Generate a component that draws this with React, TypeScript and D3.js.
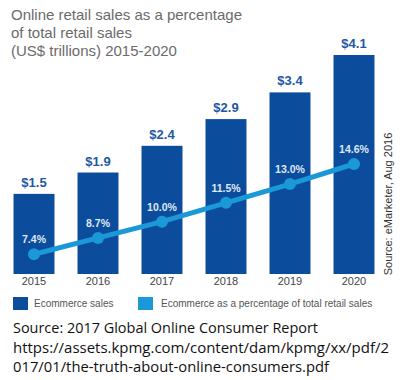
import React from "react";
import * as d3 from "d3";

const years = ["2015", "2016", "2017", "2018", "2019", "2020"];
const sales = [1.5, 1.9, 2.4, 2.9, 3.4, 4.1];
const salesLabels = ["$1.5", "$1.9", "$2.4", "$2.9", "$3.4", "$4.1"];
const pct = [7.4, 8.7, 10.0, 11.5, 13.0, 14.6];
const pctLabels = ["7.4%", "8.7%", "10.0%", "11.5%", "13.0%", "14.6%"];
const titleLines = [
  "Online retail sales as a percentage",
  "of total retail sales",
  "(US$ trillions) 2015-2020",
];
const sourceLines = [
  "Source: 2017 Global Online Consumer Report",
  "https://assets.kpmg.com/content/dam/kpmg/xx/pdf/2",
  "017/01/the-truth-about-online-consumers.pdf",
];

const BAR = "#0b4c9d";
const LINE = "#1b98d8";
const LABEL = "#1f58a3";

export default function App() {
  const W = 400, H = 380;
  const x = d3.scaleBand<string>().domain(years).range([2, 386]).paddingInner(0.36).paddingOuter(0.18);
  const y = d3.scaleLinear().domain([0, 4.1]).range([274, 55]);
  const y2 = d3.scaleLinear().domain([0, 14.6]).range([347, 164]);
  const cx = (yr: string) => (x(yr) ?? 0) + x.bandwidth() / 2;
  const line = d3.line<number>().x((_, i) => cx(years[i])).y((d) => y2(d));

  return (
    <svg
      width={W}
      height={H}
      style={{ position: "absolute", left: 0, top: 0, background: "#fff" }}
      fontFamily="'Liberation Sans', Arial, sans-serif"
    >
      {titleLines.map((t, i) => (
        <text key={t} x={11} y={20 + i * 18} fontSize={15} fill="#6b6b6b">
          {t}
        </text>
      ))}
      {years.map((yr, i) => (
        <g key={yr}>
          <rect x={x(yr)} y={y(sales[i])} width={x.bandwidth()} height={y(0) - y(sales[i])} fill={BAR} />
          <text x={cx(yr)} y={y(sales[i]) - 7} textAnchor="middle" fontSize={13} fontWeight="bold" fill={LABEL}>
            {salesLabels[i]}
          </text>
          <text x={cx(yr)} y={285} textAnchor="middle" fontSize={11} fill="#444">
            {yr}
          </text>
        </g>
      ))}
      <path d={line(pct) ?? ""} fill="none" stroke={LINE} strokeWidth={5} />
      {pct.map((p, i) => (
        <g key={i}>
          <circle cx={cx(years[i])} cy={y2(p)} r={6} fill={LINE} />
          <text x={cx(years[i])} y={y2(p) - 11} textAnchor="middle" fontSize={10.5} fontWeight="bold" fill="#dfe9f5">
            {pctLabels[i]}
          </text>
        </g>
      ))}
      <text
        transform="translate(392,204) rotate(-90)"
        textAnchor="middle"
        fontSize={11}
        fill="#333"
      >
        Source: eMarketer, Aug 2016
      </text>
      <rect x={13} y={297} width={15} height={13} fill={BAR} />
      <text x={34} y={307} fontSize={10} fill="#555">Ecommerce sales</text>
      <rect x={138} y={297} width={15} height={13} fill={LINE} />
      <text x={161} y={307} fontSize={10} fill="#555">Ecommerce as a percentage of total retail sales</text>
      {sourceLines.map((t, i) => (
        <text
          key={t}
          x={13}
          y={333 + i * 19.5}
          fontSize={15}
          fill="#111"
          fontFamily="'Open Sans', 'Noto Sans', sans-serif"
          textLength={i === 0 ? 305 : i === 1 ? 376 : 316}
          lengthAdjust="spacingAndGlyphs"
        >
          {t}
        </text>
      ))}
    </svg>
  );
}
